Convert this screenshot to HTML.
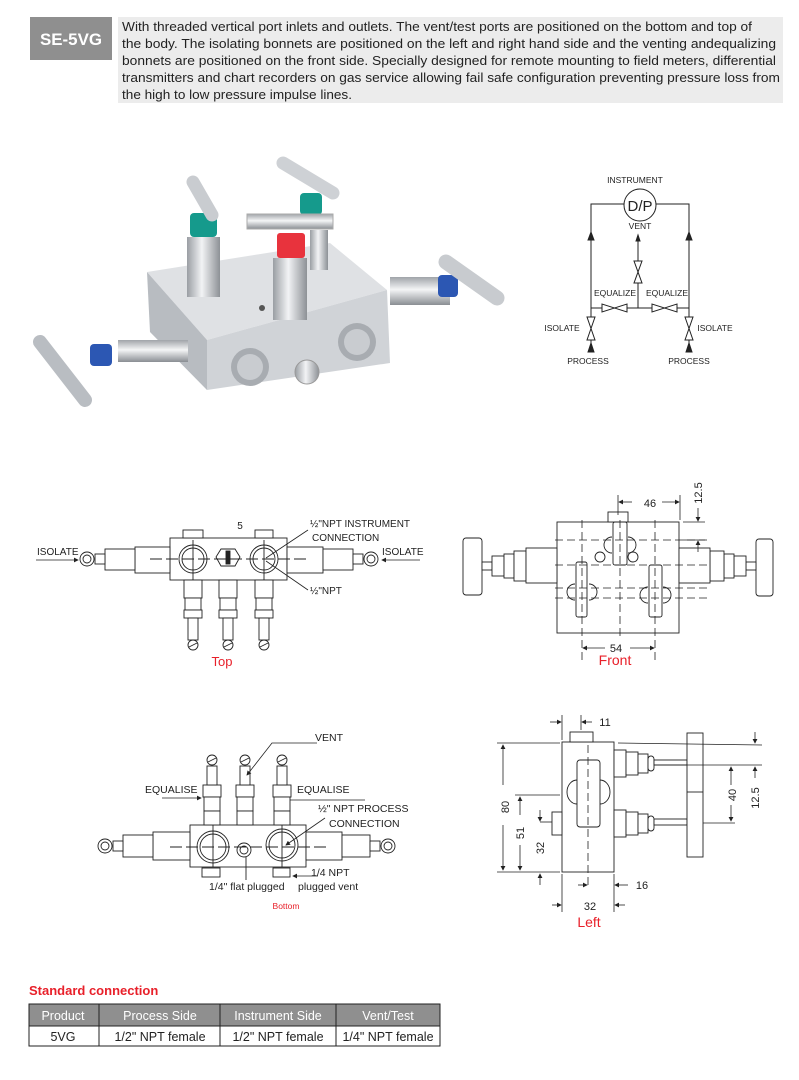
<!DOCTYPE html>
<html><head><meta charset="utf-8"><style>
html,body{margin:0;padding:0;background:#fff;}
body{width:799px;height:1075px;position:relative;overflow:hidden;font-family:"Liberation Sans",Arial,sans-serif;}
svg text{font-family:"Liberation Sans",Arial,sans-serif;}
</style></head><body>
<svg width="799" height="1075" viewBox="0 0 799 1075" xmlns="http://www.w3.org/2000/svg">
<defs>
<marker id="ah" markerWidth="6" markerHeight="6" refX="5" refY="3" orient="auto"><path d="M0,0 L6,3 L0,6 Z" fill="#222"/></marker>
<linearGradient id="met" x1="0" y1="0" x2="1" y2="0"><stop offset="0" stop-color="#9a9ea3"/><stop offset="0.45" stop-color="#f2f3f5"/><stop offset="1" stop-color="#8d9196"/></linearGradient>
<linearGradient id="metv" x1="0" y1="0" x2="0" y2="1"><stop offset="0" stop-color="#a0a4a9"/><stop offset="0.45" stop-color="#f4f5f6"/><stop offset="1" stop-color="#8a8e93"/></linearGradient>
</defs>

<!-- Header -->
<rect x="30" y="17" width="82" height="43" fill="#8f8f8f"/>
<text x="71" y="45" font-size="17" font-weight="bold" fill="#fff" text-anchor="middle" textLength="62" lengthAdjust="spacingAndGlyphs">SE-5VG</text>
<rect x="118" y="17" width="665" height="86" fill="#ececec"/>
<g font-size="12.6" fill="#222">
<text x="122" y="31" textLength="630" lengthAdjust="spacingAndGlyphs">With threaded vertical port inlets and outlets. The vent/test ports are positioned on the bottom and top of</text>
<text x="122" y="48" textLength="654" lengthAdjust="spacingAndGlyphs">the body. The isolating bonnets are positioned on the left and right hand side and the venting andequalizing</text>
<text x="122" y="65" textLength="654" lengthAdjust="spacingAndGlyphs">bonnets are positioned on the front side. Specially designed for remote mounting to field meters, differential</text>
<text x="122" y="82" textLength="658" lengthAdjust="spacingAndGlyphs">transmitters and chart recorders on gas service allowing fail safe configuration preventing pressure loss from</text>
<text x="122" y="99" textLength="230" lengthAdjust="spacingAndGlyphs">the high to low pressure impulse lines.</text>
</g>

<!-- Photo approximation -->
<g>
<polygon points="147,272 330,243 387,290 207,340" fill="#dfe1e4"/>
<polygon points="147,272 207,340 207,390 150,332" fill="#b8bcc1"/>
<polygon points="207,340 387,290 390,363 207,390" fill="#d0d3d7"/>
<circle cx="250" cy="367" r="19" fill="#a8acb1"/><circle cx="250" cy="367" r="13" fill="#c9ccd0"/>
<circle cx="357" cy="342" r="19" fill="#a8acb1"/><circle cx="357" cy="342" r="13" fill="#c9ccd0"/>
<circle cx="307" cy="372" r="12" fill="url(#met)" stroke="#999"/>
<circle cx="262" cy="308" r="3" fill="#555"/>
<rect x="118" y="340" width="70" height="22" fill="url(#metv)"/>
<rect x="90" y="344" width="22" height="22" rx="4" fill="#2c57b3"/>
<line x1="40" y1="342" x2="85" y2="400" stroke="#b9bdc2" stroke-width="14" stroke-linecap="round"/>
<rect x="187" y="237" width="33" height="60" fill="url(#met)"/>
<rect x="190" y="213" width="27" height="24" rx="4" fill="#159a8c"/>
<line x1="193" y1="182" x2="212" y2="215" stroke="#c9ccd0" stroke-width="13" stroke-linecap="round"/>
<rect x="310" y="230" width="18" height="40" fill="url(#met)"/>
<rect x="300" y="193" width="22" height="22" rx="4" fill="#159a8c"/>
<line x1="283" y1="163" x2="333" y2="193" stroke="#ced1d5" stroke-width="13" stroke-linecap="round"/>
<rect x="273" y="258" width="34" height="62" fill="url(#met)"/>
<rect x="277" y="233" width="28" height="25" rx="3" fill="#e8333d"/>
<rect x="247" y="214" width="86" height="15" fill="url(#metv)" stroke="#aaa"/>
<rect x="390" y="277" width="60" height="28" fill="url(#metv)"/>
<rect x="438" y="275" width="20" height="22" rx="4" fill="#2c57b3"/>
<line x1="446" y1="262" x2="497" y2="298" stroke="#c8cbcf" stroke-width="15" stroke-linecap="round"/>
</g>

<!-- P&ID -->
<g stroke="#222" stroke-width="1" fill="none">
<text x="635" y="183" font-size="8.5" fill="#222" stroke="none" text-anchor="middle">INSTRUMENT</text>
<circle cx="640" cy="205" r="16" fill="#fff"/>
<text x="640" y="211" font-size="15" fill="#222" stroke="none" text-anchor="middle">D/P</text>
<polyline points="624,204 591,204 591,317"/>
<polyline points="656,204 689,204 689,317"/>
<line x1="591" y1="308" x2="689" y2="308"/>
<polygon points="588,240 591,232 594,240" fill="#222"/>
<polygon points="686,240 689,232 692,240" fill="#222"/>
<text x="640" y="229" font-size="8.5" fill="#222" stroke="none" text-anchor="middle">VENT</text>
<line x1="638" y1="308" x2="638" y2="240"/>
<polygon points="636,241 638,235 640,241" fill="#222"/>
<polygon points="634,261 642,261 634,283 642,283" fill="#fff"/>
<polygon points="602,304 602,312 627,304 627,312" fill="#fff"/>
<polygon points="652,304 652,312 677,304 677,312" fill="#fff"/>
<text x="615" y="296" font-size="8.5" fill="#222" stroke="none" text-anchor="middle">EQUALIZE</text>
<text x="667" y="296" font-size="8.5" fill="#222" stroke="none" text-anchor="middle">EQUALIZE</text>
<polygon points="587,317 595,317 587,340 595,340" fill="#fff"/>
<polygon points="685,317 693,317 685,340 693,340" fill="#fff"/>
<line x1="591" y1="340" x2="591" y2="352"/><line x1="689" y1="340" x2="689" y2="352"/>
<polygon points="588,352 591,343 594,352" fill="#222"/>
<polygon points="686,352 689,343 692,352" fill="#222"/>
<text x="562" y="331" font-size="8.5" fill="#222" stroke="none" text-anchor="middle">ISOLATE</text>
<text x="715" y="331" font-size="8.5" fill="#222" stroke="none" text-anchor="middle">ISOLATE</text>
<text x="588" y="364" font-size="8.5" fill="#222" stroke="none" text-anchor="middle">PROCESS</text>
<text x="689" y="364" font-size="8.5" fill="#222" stroke="none" text-anchor="middle">PROCESS</text>
</g>

<!-- TOP view -->
<g stroke="#222" stroke-width="0.9" fill="#fff">
<rect x="170" y="538" width="117" height="42"/>
<rect x="135" y="547" width="35" height="26"/><rect x="105" y="549" width="30" height="21"/>
<rect x="95" y="554" width="10" height="10"/><circle cx="87" cy="559" r="7"/><circle cx="87" cy="559" r="4"/>
<rect x="287" y="547" width="36" height="26"/><rect x="323" y="549" width="30" height="21"/>
<rect x="353" y="554" width="10" height="10"/><circle cx="371" cy="559" r="7"/><circle cx="371" cy="559" r="4"/>
<circle cx="193" cy="559" r="14"/><circle cx="193" cy="559" r="11"/>
<circle cx="264" cy="559" r="14"/><circle cx="264" cy="559" r="11"/>
<polygon points="221,549 235,549 240,557 235,566 221,566 216,557"/>
<rect x="226" y="551" width="4" height="13" fill="#222"/>
<rect x="183" y="530" width="20" height="8"/><rect x="255" y="530" width="18" height="8"/>
<g id="stemT">
<rect x="184" y="580" width="18" height="18"/><rect x="185" y="598" width="16" height="12"/><rect x="184" y="610" width="18" height="8"/>
<rect x="188" y="618" width="10" height="22"/><circle cx="193" cy="645" r="5"/><line x1="189" y1="647" x2="197" y2="643"/>
</g>
<use href="#stemT" x="35"/><use href="#stemT" x="71"/>
<line x1="150" y1="559" x2="307" y2="559" stroke-dasharray="12,4"/>
<line x1="193" y1="540" x2="193" y2="580"/><line x1="264" y1="540" x2="264" y2="580"/>
</g>
<g font-size="10" fill="#222">
<text x="240" y="529" text-anchor="middle">5</text>
<text x="310" y="527">½"NPT INSTRUMENT</text>
<text x="312" y="541">CONNECTION</text>
<text x="310" y="594">½"NPT</text>
<text x="37" y="555">ISOLATE</text>
<text x="382" y="555">ISOLATE</text>
<text x="222" y="666" text-anchor="middle" fill="#e8202a" font-size="13">Top</text>
</g>
<g stroke="#222" stroke-width="0.8"><line x1="36" y1="560" x2="78" y2="560" marker-end="url(#ah)"/><line x1="420" y1="560" x2="382" y2="560" marker-end="url(#ah)"/>
<line x1="308" y1="530" x2="266" y2="558"/><line x1="308" y1="590" x2="266" y2="561"/></g>

<!-- FRONT view -->
<g stroke="#222" stroke-width="0.9" fill="#fff">
<rect x="557" y="522" width="122" height="111"/>
<rect x="463" y="538" width="19" height="57" rx="3"/>
<rect x="482" y="562" width="10" height="8"/><rect x="492" y="556" width="12" height="20"/><rect x="504" y="554" width="10" height="24"/><rect x="514" y="551" width="12" height="30"/><rect x="526" y="548" width="31" height="35"/>
<rect x="756" y="539" width="17" height="57" rx="3"/>
<rect x="746" y="562" width="10" height="8"/><rect x="734" y="556" width="12" height="20"/><rect x="724" y="554" width="10" height="24"/><rect x="710" y="551" width="14" height="30"/><rect x="679" y="548" width="31" height="35"/>
<rect x="608" y="512" width="20" height="10"/>
<path d="M612,537 a8,8 0 0,0 0,16 M628,537 a8,8 0 0,1 0,16"/>
<rect x="613" y="522" width="14" height="43" rx="2"/>
<path d="M575,584 a8,8 0 0,0 0,16 M589,584 a8,8 0 0,1 0,16"/>
<rect x="576" y="562" width="11" height="55" rx="2"/>
<path d="M648,587 a8,8 0 0,0 0,16 M663,587 a8,8 0 0,1 0,16"/>
<rect x="649" y="565" width="13" height="52" rx="2"/>
<circle cx="600" cy="557" r="5"/><circle cx="633" cy="557" r="5"/>
</g>
<g stroke="#222" stroke-width="0.8" stroke-dasharray="8,4" fill="none">
<line x1="555" y1="540" x2="710" y2="540"/><line x1="555" y1="565" x2="710" y2="565"/><line x1="555" y1="588" x2="710" y2="588"/><line x1="555" y1="598" x2="710" y2="598"/>
<line x1="582" y1="520" x2="582" y2="660"/><line x1="620" y1="520" x2="620" y2="640"/><line x1="655" y1="520" x2="655" y2="660"/>
</g>
<g stroke="#222" stroke-width="0.8"><line x1="618" y1="495" x2="618" y2="515"/><line x1="680" y1="495" x2="680" y2="520"/>
<line x1="632" y1="502" x2="619" y2="502" marker-end="url(#ah)"/><line x1="662" y1="502" x2="679" y2="502" marker-end="url(#ah)"/>
<line x1="683" y1="522" x2="705" y2="522"/><line x1="683" y1="540" x2="705" y2="540"/>
<line x1="698" y1="508" x2="698" y2="521" marker-end="url(#ah)"/><line x1="698" y1="552" x2="698" y2="541" marker-end="url(#ah)"/>
<line x1="605" y1="648" x2="583" y2="648" marker-end="url(#ah)"/><line x1="630" y1="648" x2="654" y2="648" marker-end="url(#ah)"/></g>
<g font-size="11" fill="#222">
<text x="650" y="507" text-anchor="middle">46</text>
<text transform="translate(702,493) rotate(-90)" text-anchor="middle">12.5</text>
<text x="616" y="652" text-anchor="middle">54</text>
<text x="615" y="665" text-anchor="middle" fill="#e8202a" font-size="14">Front</text>
</g>

<!-- BOTTOM view -->
<g stroke="#222" stroke-width="0.9" fill="#fff">
<rect x="190" y="825" width="116" height="42"/>
<rect x="153" y="832" width="37" height="28"/><rect x="123" y="835" width="30" height="22"/>
<rect x="113" y="841" width="10" height="10"/><circle cx="105" cy="846" r="7"/><circle cx="105" cy="846" r="4"/>
<rect x="306" y="832" width="36" height="28"/><rect x="342" y="835" width="28" height="22"/>
<rect x="370" y="841" width="10" height="10"/><circle cx="388" cy="846" r="7"/><circle cx="388" cy="846" r="4"/>
<circle cx="213" cy="847" r="16"/><circle cx="213" cy="847" r="13"/>
<circle cx="282" cy="845" r="16"/><circle cx="282" cy="845" r="13"/>
<circle cx="244" cy="850" r="7"/><circle cx="244" cy="850" r="4"/>
<rect x="202" y="868" width="18" height="9"/><rect x="273" y="868" width="17" height="9"/>
<g id="stemB">
<rect x="203" y="785" width="18" height="12"/><rect x="204" y="797" width="16" height="14"/><rect x="204" y="811" width="16" height="14"/>
<rect x="207" y="766" width="10" height="19"/><circle cx="212" cy="760" r="5"/><line x1="208" y1="762" x2="216" y2="758"/>
</g>
<use href="#stemB" x="33"/><use href="#stemB" x="70"/>
<line x1="170" y1="847" x2="330" y2="847" stroke-dasharray="12,4"/>
<line x1="213" y1="825" x2="213" y2="867"/><line x1="282" y1="825" x2="282" y2="867"/><line x1="246" y1="857" x2="246" y2="880"/>
</g>
<g stroke="#222" stroke-width="0.8" fill="none">
<polyline points="317,743 272,743 247,775" marker-end="url(#ah)"/>
<line x1="162" y1="798" x2="201" y2="798" marker-end="url(#ah)"/>
<line x1="365" y1="800" x2="290" y2="800"/>
<line x1="325" y1="818" x2="286" y2="845" marker-end="url(#ah)"/>
<line x1="318" y1="876" x2="293" y2="876" marker-end="url(#ah)"/>
</g>
<g font-size="10.5" fill="#222">
<text x="315" y="741">VENT</text>
<text x="145" y="793">EQUALISE</text>
<text x="297" y="793">EQUALISE</text>
<text x="318" y="812">½" NPT PROCESS</text>
<text x="329" y="827">CONNECTION</text>
<text x="311" y="876">1/4 NPT</text>
<text x="298" y="890">plugged vent</text>
<text x="209" y="890">1/4" flat plugged</text>
<text x="286" y="909" text-anchor="middle" fill="#e8202a" font-size="8.5">Bottom</text>
</g>

<!-- LEFT view -->
<g stroke="#222" stroke-width="0.9" fill="#fff">
<rect x="562" y="742" width="52" height="130"/>
<path d="M577,780 a10,12 0 0,0 0,24 M600,780 a10,12 0 0,1 0,24"/>
<rect x="577" y="760" width="23" height="67" rx="3"/>
<rect x="570" y="732" width="23" height="10"/>
<rect x="552" y="812" width="10" height="23"/>
<rect x="614" y="750" width="12" height="27"/><rect x="626" y="752" width="12" height="23"/><rect x="638" y="754" width="10" height="19"/><rect x="648" y="756" width="6" height="15" rx="3"/><rect x="654" y="760" width="33" height="5"/>
<rect x="614" y="810" width="12" height="27"/><rect x="626" y="812" width="12" height="23"/><rect x="638" y="814" width="10" height="19"/><rect x="648" y="816" width="6" height="15" rx="3"/><rect x="654" y="819" width="33" height="6"/>
<rect x="687" y="733" width="16" height="124"/>
<line x1="687" y1="792" x2="703" y2="792"/>
</g>
<g stroke="#222" stroke-width="0.8" fill="none">
<line x1="588" y1="745" x2="588" y2="885" stroke-dasharray="8,4"/>
<line x1="497" y1="743" x2="560" y2="743"/><line x1="497" y1="872" x2="560" y2="872"/>
<line x1="503" y1="785" x2="503" y2="745" marker-end="url(#ah)"/><line x1="503" y1="825" x2="503" y2="870" marker-end="url(#ah)"/>
<line x1="515" y1="795" x2="560" y2="795"/>
<line x1="520" y1="815" x2="520" y2="797" marker-end="url(#ah)"/><line x1="520" y1="845" x2="520" y2="870" marker-end="url(#ah)"/>
<line x1="540" y1="822" x2="552" y2="822"/>
<line x1="540" y1="810" x2="540" y2="821" marker-end="url(#ah)"/><line x1="540" y1="885" x2="540" y2="874" marker-end="url(#ah)"/>
<line x1="562" y1="715" x2="562" y2="740"/><line x1="550" y1="722" x2="561" y2="722" marker-end="url(#ah)"/><line x1="592" y1="722" x2="582" y2="722" marker-end="url(#ah)"/><line x1="581" y1="715" x2="581" y2="730"/>
<line x1="562" y1="874" x2="562" y2="912"/><line x1="614" y1="874" x2="614" y2="912"/>
<line x1="552" y1="905" x2="561" y2="905" marker-end="url(#ah)"/><line x1="625" y1="905" x2="615" y2="905" marker-end="url(#ah)"/>
<line x1="578" y1="885" x2="587" y2="885" marker-end="url(#ah)"/><line x1="628" y1="885" x2="615" y2="885" marker-end="url(#ah)"/>
<line x1="618" y1="743" x2="762" y2="745"/><line x1="654" y1="765" x2="762" y2="765"/><line x1="703" y1="823" x2="735" y2="823"/>
<line x1="755" y1="732" x2="755" y2="743" marker-end="url(#ah)"/><line x1="755" y1="778" x2="755" y2="767" marker-end="url(#ah)"/>
<line x1="731" y1="785" x2="731" y2="767" marker-end="url(#ah)"/><line x1="731" y1="805" x2="731" y2="821" marker-end="url(#ah)"/>
</g>
<g font-size="11" fill="#222">
<text x="605" y="726" text-anchor="middle">11</text>
<text transform="translate(509,807) rotate(-90)" text-anchor="middle">80</text>
<text transform="translate(524,833) rotate(-90)" text-anchor="middle">51</text>
<text transform="translate(544,848) rotate(-90)" text-anchor="middle">32</text>
<text transform="translate(736,795) rotate(-90)" text-anchor="middle">40</text>
<text transform="translate(759,798) rotate(-90)" text-anchor="middle">12.5</text>
<text x="642" y="889" text-anchor="middle">16</text>
<text x="590" y="910" text-anchor="middle">32</text>
<text x="589" y="927" text-anchor="middle" fill="#e8202a" font-size="14">Left</text>
</g>

<!-- Table -->
<text x="29" y="995" font-size="13" font-weight="bold" fill="#e8202a">Standard connection</text>
<rect x="29" y="1004" width="411" height="22" fill="#8f8f8f"/>
<rect x="29" y="1004" width="411" height="42" fill="none" stroke="#222" stroke-width="1"/>
<line x1="29" y1="1026" x2="440" y2="1026" stroke="#222"/>
<g stroke="#222"><line x1="99" y1="1004" x2="99" y2="1046"/><line x1="220" y1="1004" x2="220" y2="1046"/><line x1="336" y1="1004" x2="336" y2="1046"/></g>
<g font-size="12.5" fill="#fff" text-anchor="middle">
<text x="63" y="1020">Product</text><text x="160" y="1020">Process Side</text><text x="278" y="1020">Instrument Side</text><text x="388" y="1020">Vent/Test</text>
</g>
<g font-size="12.5" fill="#222" text-anchor="middle">
<text x="63" y="1041">5VG</text><text x="160" y="1041">1/2" NPT female</text><text x="278" y="1041">1/2" NPT female</text><text x="388" y="1041">1/4" NPT female</text>
</g>
</svg>
</body></html>
